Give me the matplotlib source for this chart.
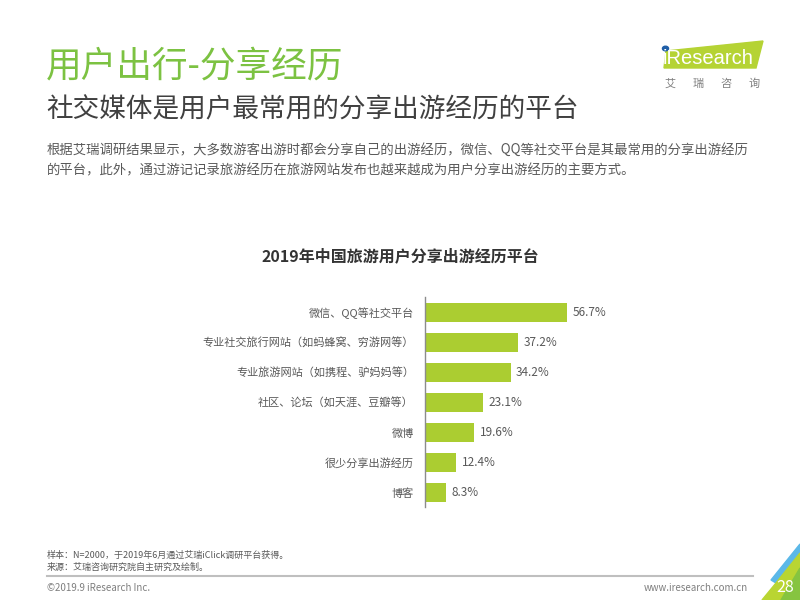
import matplotlib.pyplot as plt
from matplotlib.patches import Polygon

plt.rcParams['font.family'] = ['Noto Sans CJK SC', 'DejaVu Sans']

# chart data
categories = ['微信、QQ等社交平台', '专业社交旅行网站（如蚂蜂窝、穷游网等）', '专业旅游网站（如携程、驴妈妈等）',
              '社区、论坛（如天涯、豆瓣等）', '微博', '很少分享出游经历', '博客']
values = [56.7, 37.2, 34.2, 23.1, 19.6, 12.4, 8.3]

page_title = '用户出行-分享经历'
page_subtitle = '社交媒体是用户最常用的分享出游经历的平台'
body_lines = ['根据艾瑞调研结果显示，大多数游客出游时都会分享自己的出游经历，微信、QQ等社交平台是其最常用的分享出游经历',
              '的平台，此外，通过游记记录旅游经历在旅游网站发布也越来越成为用户分享出游经历的主要方式。']
chart_title = '2019年中国旅游用户分享出游经历平台'
notes = ['样本：N=2000，于2019年6月通过艾瑞iClick调研平台获得。', '来源：艾瑞咨询研究院自主研究及绘制。']

W, H = 800, 600
BAR = '#abcd31'
GREEN = '#7cc242'
GRAY = '#595959'


def px(x, y):
    # pixel coords (top-left origin) -> figure fraction
    return x / W, 1 - y / H


fig = plt.figure(figsize=(8, 6), dpi=100)

# header
fig.text(*px(46, 66), page_title, fontsize=25.7, color=GREEN, va='center', fontweight='light')
fig.text(*px(46, 110), page_subtitle, fontsize=19.2, color='#404040', va='center')
fig.text(*px(47, 150), body_lines[0], fontsize=9.6, color=GRAY, va='center')
fig.text(*px(47, 170), body_lines[1], fontsize=9.6, color=GRAY, va='center')

# logo
fig.patches.append(Polygon([px(664, 68), px(666, 51), px(763, 41), px(756, 68)],
                           closed=True, color='#b5d334', transform=fig.transFigure))
fig.text(*px(663, 59), 'iResearch', fontsize=14.5, color='white', va='center', family='Liberation Sans')
fig.patches.append(plt.Circle(px(665.5, 48.5), 0.0038, color='#1f5fa8', transform=fig.transFigure))
for i, ch in enumerate('艾瑞咨询'):
    fig.text(*px(670 + i * 28, 84), ch, fontsize=8, color='#7f7f7f', va='center', ha='center')

# chart title
fig.text(*px(400, 256), chart_title, fontsize=11.5, color='#333333', fontweight='bold', ha='center', va='center')

# bar chart
ax = fig.add_axes([425 / W, 1 - 507 / H, 200 / W, 210 / H])
pos = list(range(len(values)))
ax.barh(pos, values, height=0.63, color=BAR)
for i, v in zip(pos, values):
    ax.text(v + 2.2, i, f'{v}%', va='center', ha='left', fontsize=8.5, color=GRAY)
ax.set_xlim(0, 80)
ax.set_ylim(6.47, -0.5)
ax.set_yticks(pos)
ax.set_yticklabels(categories, fontsize=8.0, color=GRAY)
ax.tick_params(axis='y', length=0, pad=8)
ax.set_xticks([])
for s in ['top', 'right', 'bottom']:
    ax.spines[s].set_visible(False)
ax.spines['left'].set_color('#8c8c8c')
ax.spines['left'].set_linewidth(1)
ax.patch.set_alpha(0)

# footer
fig.text(*px(47, 555), notes[0], fontsize=6.5, color=GRAY, va='center')
fig.text(*px(47, 567), notes[1], fontsize=6.5, color=GRAY, va='center')
fig.add_artist(plt.Line2D([47 / W, 753 / W], [1 - 576 / H] * 2, color='#bfbfbf', lw=1.5,
                          transform=fig.transFigure))
fig.text(*px(47, 588), '©2019.9 iResearch Inc.', fontsize=7, color='#7f7f7f', va='center')
fig.text(*px(748, 588), 'www.iresearch.com.cn', fontsize=7, color='#7f7f7f', va='center', ha='right')

# corner decoration
fig.patches.append(Polygon([px(771, 580), px(800, 544), px(800, 553), px(776, 583)], closed=True,
                           color='#5bb8e8', transform=fig.transFigure))
fig.patches.append(Polygon([px(762, 600), px(776, 583), px(800, 553), px(800, 600)], closed=True,
                           color='#b9d532', transform=fig.transFigure))
fig.patches.append(Polygon([px(781, 600), px(800, 568), px(800, 600)], closed=True,
                           color='#86c440', transform=fig.transFigure))
fig.text(*px(785, 587), '28', fontsize=11.5, color='white', va='center', ha='center')

fig.savefig('out.png', dpi=100)
